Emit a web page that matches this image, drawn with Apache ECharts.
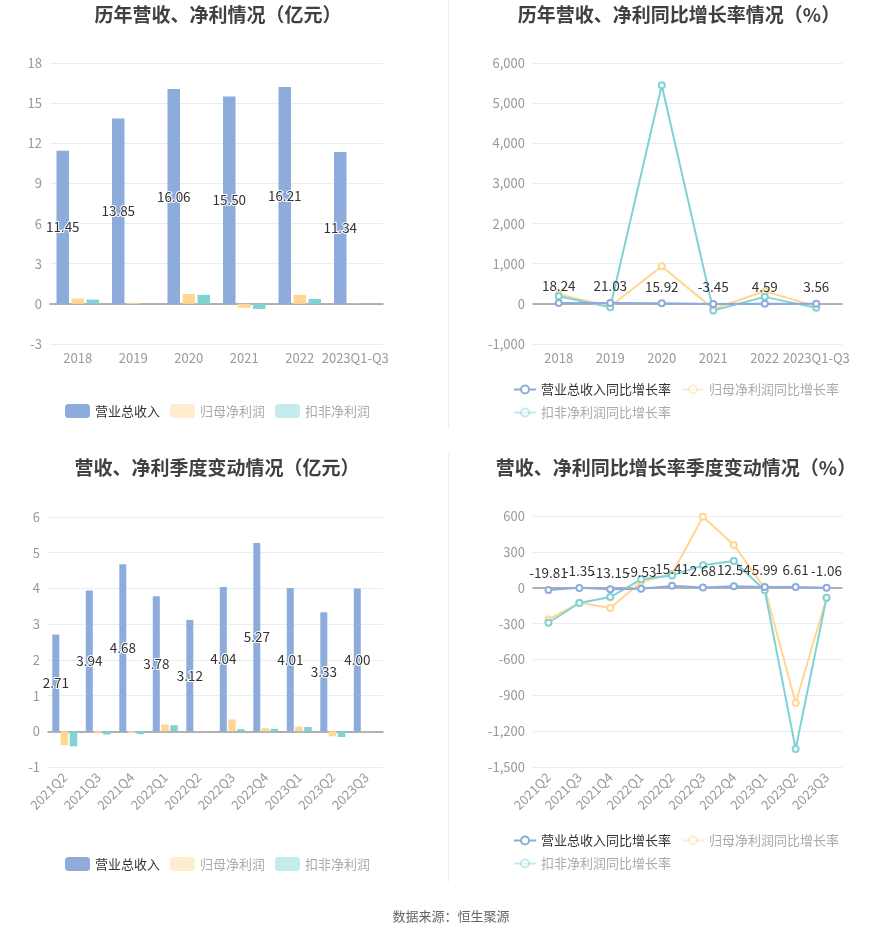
<!DOCTYPE html>
<html><head><meta charset="utf-8">
<script src="https://cdn.jsdelivr.net/npm/echarts@6/dist/echarts.min.js"></script>
<style>html,body{margin:0;padding:0;background:#fff}#c{width:893px;height:934px}</style>
</head><body><div id="c"></div>
<script>
const yearCats = ['2018','2019','2020','2021','2022','2023Q1-Q3'];
const yearRevenue = [11.45, 13.85, 16.06, 15.50, 16.21, 11.34];
const yearNetProfit = [0.40, 0.07, 0.74, -0.29, 0.67, 0.02];
const yearDeductProfit = [0.32, 0.012, 0.67, -0.38, 0.37, 0.01];

const yearRevenueYoY = [18.24, 21.03, 15.92, -3.45, 4.59, 3.56];
const yearNetYoY = [232, -62, 938, -125, 315, -62];
const yearDeductYoY = [190, -83, 5444, -166, 174, -100];

const qCats = ['2021Q2','2021Q3','2021Q4','2022Q1','2022Q2','2022Q3','2022Q4','2023Q1','2023Q2','2023Q3'];
const qRevenue = [2.71, 3.94, 4.68, 3.78, 3.12, 4.04, 5.27, 4.01, 3.33, 4.00];
const qNetProfit = [-0.39, -0.06, -0.05, 0.19, 0.01, 0.33, 0.09, 0.13, -0.14, 0.01];
const qDeductProfit = [-0.42, -0.09, -0.08, 0.17, 0.005, 0.06, 0.07, 0.12, -0.16, 0.005];

const qRevenueYoY = [-19.81, -1.35, -13.15, -9.53, 15.41, 2.68, 12.54, 5.99, 6.61, -1.06];
const qNetYoY = [-265, -126, -170, 50, 117, 593, 358, -5, -964, -84];
const qDeductYoY = [-293, -128, -78, 70, 103, 187, 223, -22, -1349, -84];

const C_BLUE = '#8DACDB', C_ORANGE = '#FFD692', C_TEAL = '#7FD3D4';
const AX = '#999';
const SPLIT = '#E8ECF4';
const FONT = 'Noto Sans CJK SC';

function xAxis(gi, cats, rotate) {
  return {
    type: 'category', gridIndex: gi, data: cats,
    axisLine: { onZero: true, lineStyle: { color: '#999', width: 1.5 } },
    axisTick: { alignWithLabel: true, length: 5, lineStyle: { color: '#999' } },
    axisLabel: { color: AX, fontSize: 13, rotate: rotate || 0, margin: 8, interval: 0, fontFamily: FONT }
  };
}
function yAxis(gi, min, max, interval) {
  return {
    type: 'value', gridIndex: gi, min: min, max: max, interval: interval,
    axisLine: { show: false }, axisTick: { show: false },
    axisLabel: { color: AX, fontSize: 13, fontFamily: FONT },
    splitLine: { lineStyle: { color: SPLIT } }
  };
}
const fmt2 = p => Number(p.value).toFixed(2);
const barLabel = {
  show: true, position: 'inside', color: '#333', fontSize: 13.5, formatter: fmt2,
  textBorderColor: '#fff', textBorderWidth: 2, fontFamily: FONT
};
function bar(name, data, xi, color, w, label) {
  return { name: name, type: 'bar', xAxisIndex: xi, yAxisIndex: xi, data: data,
    barWidth: w, barGap: '20%', itemStyle: { color: color }, label: label ? barLabel : { show: false } };
}
function line(name, data, xi, color, label) {
  return { name: name, type: 'line', xAxisIndex: xi, yAxisIndex: xi, data: data,
    symbol: 'emptyCircle', symbolSize: 6, lineStyle: { color: color, width: 2 },
    itemStyle: { color: color }, z: label ? 5 : 3,
    label: label ? { show: true, position: 'top', color: '#333', fontSize: 13.5, distance: 6, formatter: fmt2, fontFamily: FONT } : { show: false } };
}
function legendBar(left, top) {
  return {
    left: left, top: top, itemWidth: 25, itemHeight: 14, itemGap: 10, icon: 'roundRect',
    textStyle: { fontSize: 13, fontFamily: FONT },
    data: [
      { name: '营业总收入', textStyle: { color: '#333' } },
      { name: '归母净利润', itemStyle: { opacity: 0.45 }, textStyle: { color: '#aaa' } },
      { name: '扣非净利润', itemStyle: { opacity: 0.45 }, textStyle: { color: '#aaa' } }
    ]
  };
}
function legendLine(left, top) {
  return {
    left: left, top: top, width: 345, itemWidth: 22, itemHeight: 10, itemGap: 10,
    textStyle: { fontSize: 13, fontFamily: FONT },
    data: [
      { name: '营业总收入同比增长率', textStyle: { color: '#333' } },
      { name: '归母净利润同比增长率', itemStyle: { opacity: 0.45 }, lineStyle: { opacity: 0.45 }, textStyle: { color: '#aaa' } },
      { name: '扣非净利润同比增长率', itemStyle: { opacity: 0.45 }, lineStyle: { opacity: 0.45 }, textStyle: { color: '#aaa' } }
    ]
  };
}
const titleStyle = { fontSize: 19, fontWeight: 'bold', color: '#404040', fontFamily: FONT };

const chart = echarts.init(document.getElementById('c'), null, { renderer: 'canvas' });
chart.setOption({
  animation: false,
  title: [
    { text: '历年营收、净利情况（亿元）', left: 213, top: 0, textAlign: 'center', textStyle: titleStyle },
    { text: '历年营收、净利同比增长率情况（%）', left: 674, top: 0, textAlign: 'center', textStyle: titleStyle },
    { text: '营收、净利季度变动情况（亿元）', left: 212, top: 453, textAlign: 'center', textStyle: titleStyle },
    { text: '营收、净利同比增长率季度变动情况（%）', left: 671, top: 453, textAlign: 'center', textStyle: titleStyle },
    { text: '数据来源：恒生聚源', left: 446, top: 905, textAlign: 'center', textStyle: { fontSize: 13, fontWeight: 'normal', color: '#666', fontFamily: FONT } }
  ],
  grid: [
    { left: 50, top: 63, width: 333, height: 281 },
    { left: 533, top: 63, width: 309, height: 281 },
    { left: 48, top: 517, width: 335, height: 250 },
    { left: 533, top: 516, width: 309, height: 251 }
  ],
  xAxis: [ xAxis(0, yearCats), xAxis(1, yearCats), xAxis(2, qCats, 45), xAxis(3, qCats, 45) ],
  yAxis: [ yAxis(0, -3, 18, 3), yAxis(1, -1000, 6000, 1000), yAxis(2, -1, 6, 1), yAxis(3, -1500, 600, 300) ],
  legend: [ legendBar(60, 399), legendLine(508, 378), legendBar(60, 852), legendLine(508, 829) ],
  graphic: [
    { type: 'line', shape: { x1: 448.5, y1: 0, x2: 448.5, y2: 429 }, style: { stroke: '#eee', lineWidth: 1 } },
    { type: 'line', shape: { x1: 448.5, y1: 453, x2: 448.5, y2: 882 }, style: { stroke: '#eee', lineWidth: 1 } }
  ],
  series: [
    bar('营业总收入', yearRevenue, 0, C_BLUE, 12.5, true),
    bar('归母净利润', yearNetProfit, 0, C_ORANGE, 12.5, false),
    bar('扣非净利润', yearDeductProfit, 0, C_TEAL, 12.5, false),
    line('营业总收入同比增长率', yearRevenueYoY, 1, C_BLUE, true),
    line('归母净利润同比增长率', yearNetYoY, 1, C_ORANGE, false),
    line('扣非净利润同比增长率', yearDeductYoY, 1, C_TEAL, false),
    bar('营业总收入', qRevenue, 2, C_BLUE, 7, true),
    bar('归母净利润', qNetProfit, 2, C_ORANGE, 7.5, false),
    bar('扣非净利润', qDeductProfit, 2, C_TEAL, 7.5, false),
    line('营业总收入同比增长率', qRevenueYoY, 3, C_BLUE, true),
    line('归母净利润同比增长率', qNetYoY, 3, C_ORANGE, false),
    line('扣非净利润同比增长率', qDeductYoY, 3, C_TEAL, false)
  ]
});
</script></body></html>
